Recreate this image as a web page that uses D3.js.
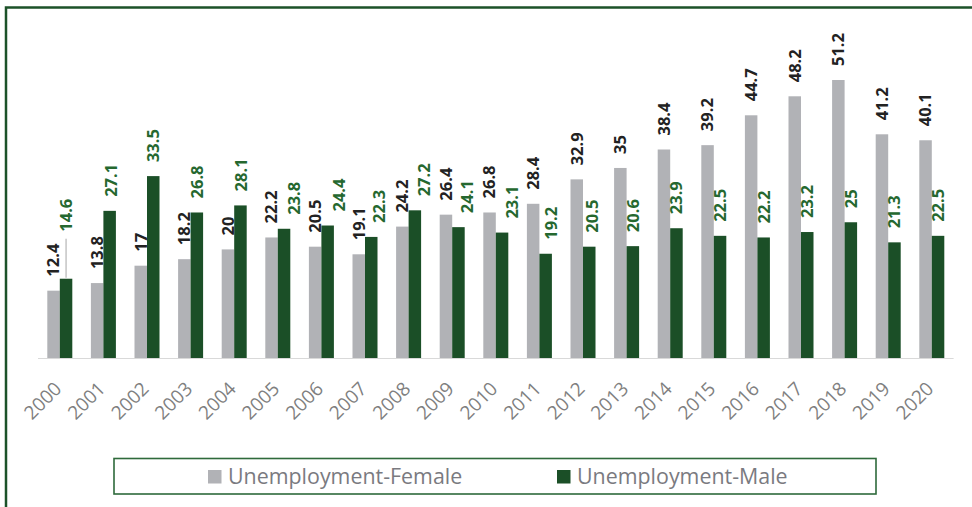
<!DOCTYPE html>
<html>
<head>
<meta charset="utf-8">
<script src="https://cdn.jsdelivr.net/npm/d3@7"></script>
<style>
  html, body { margin: 0; padding: 0; background: #fff; }
  svg { display: block; }
</style>
</head>
<body>
<svg id="chart" width="972" height="507"></svg>
<script>
// Unemployment by sex, 2000–2020
const years = ["2000","2001","2002","2003","2004","2005","2006","2007","2008","2009","2010",
               "2011","2012","2013","2014","2015","2016","2017","2018","2019","2020"];
const female = [12.4, 13.8, 17, 18.2, 20, 22.2, 20.5, 19.1, 24.2, 26.4, 26.8,
                28.4, 32.9, 35, 38.4, 39.2, 44.7, 48.2, 51.2, 41.2, 40.1];
const male = [14.6, 27.1, 33.5, 26.8, 28.1, 23.8, 24.4, 22.3, 27.2, 24.1, 23.1,
              19.2, 20.5, 20.6, 23.9, 22.5, 22.2, 23.2, 25, 21.3, 22.5];
const seriesNames = ["Unemployment-Female", "Unemployment-Male"];

const W = 972, H = 507;
const C = {
  female: "#b1b2b6",
  male: "#1b4f27",
  femaleLabel: "#222222",
  maleLabel: "#25682f",
  frame: "#1c5229",
  axisText: "#7f7f7f",
  baseline: "#d9d9d9"
};
const FONT = "'Open Sans', 'Noto Sans', sans-serif";

const svg = d3.select("#chart");

// outer frame: only the top and left edges fall inside the canvas
svg.append("path")
  .attr("d", `M6,${H} V7.5 H${W}`)
  .attr("fill", "none")
  .attr("stroke", C.frame)
  .attr("stroke-width", 2.5);

const baseY = 358;
const x0 = d3.scaleBand().domain(years).range([38, 953.6]).paddingInner(0).paddingOuter(0);
const x1 = d3.scaleBand().domain(["f", "m"]).range([0, 25]).padding(0);
const pairOffset = (x0.bandwidth() - 25) / 2;
const y = d3.scaleLinear().domain([0, 51.2]).range([baseY, 80]);

const g = svg.append("g");

// category baseline
g.append("line")
  .attr("x1", 38).attr("x2", 953.6)
  .attr("y1", baseY + 0.5).attr("y2", baseY + 0.5)
  .attr("stroke", C.baseline).attr("stroke-width", 1.2);

const rows = years.map((yr, i) => ({ yr, f: female[i], m: male[i] }));

const grp = g.selectAll("g.year").data(rows).join("g")
  .attr("class", "year")
  .attr("transform", d => `translate(${x0(d.yr) + pairOffset},0)`);

grp.append("rect")
  .attr("x", x1("f")).attr("width", x1.bandwidth())
  .attr("y", d => y(d.f)).attr("height", d => baseY - y(d.f))
  .attr("fill", C.female);

grp.append("rect")
  .attr("x", x1("m")).attr("width", x1.bandwidth())
  .attr("y", d => y(d.m)).attr("height", d => baseY - y(d.m))
  .attr("fill", C.male);

const labelGap = 14;
const LABEL_SIZE = 16.5;
const halfCap = LABEL_SIZE * 0.714 / 2;
// the 2000 male label is lifted clear of its neighbour and tied back with a leader line
const liftedLabel = { yr: "2000", lift: 33 };
// male labels in the middle years sit a little to the right of their bars
const maleLabelNudge = { "2001": 1, "2004": 1, "2005": 10, "2006": 11, "2007": 8, "2008": 9,
                         "2009": 9, "2010": 10, "2011": 5, "2012": 3 };

grp.append("text")
  .attr("transform", d => `translate(${x1("f") + x1.bandwidth() / 2 + halfCap},${y(d.f) - labelGap}) rotate(-90)`)
  .attr("font-family", FONT).attr("font-weight", 700).attr("font-size", LABEL_SIZE)
  .attr("fill", C.femaleLabel)
  .text(d => d.f);

grp.append("text")
  .attr("transform", d => {
    const lift = d.yr === liftedLabel.yr ? liftedLabel.lift : 0;
    const nudge = maleLabelNudge[d.yr] || 0;
    return `translate(${x1("m") + x1.bandwidth() / 2 + halfCap + nudge},${y(d.m) - labelGap - lift}) rotate(-90)`;
  })
  .attr("font-family", FONT).attr("font-weight", 700).attr("font-size", LABEL_SIZE)
  .attr("fill", C.maleLabel)
  .text(d => d.m);

grp.filter(d => d.yr === liftedLabel.yr).append("line")
  .attr("x1", x1("m") + x1.bandwidth() / 2).attr("x2", x1("m") + x1.bandwidth() / 2)
  .attr("y1", d => y(d.m) - labelGap - liftedLabel.lift + 7)
  .attr("y2", d => y(d.m) - 1)
  .attr("stroke", "#a6a6a6").attr("stroke-width", 1);

// rotated year labels
const axis = d3.axisBottom(x0).tickSize(0).tickPadding(0);
const ax = svg.append("g").attr("transform", `translate(0,${baseY})`).call(axis);
ax.select(".domain").remove();
ax.selectAll("text")
  .attr("font-family", FONT).attr("font-size", 19)
  .attr("fill", C.axisText)
  .attr("text-anchor", "end")
  .attr("y", 0)
  .attr("dy", 0)
  .attr("transform", "translate(3,32) rotate(-45)");

// legend
const leg = svg.append("g");
leg.append("rect")
  .attr("x", 114).attr("y", 458.5).attr("width", 762).attr("height", 35.5)
  .attr("fill", "#fff").attr("stroke", "#2e6a3b").attr("stroke-width", 1.6);

const legendItems = [
  { name: seriesNames[0], color: C.female, x: 208 },
  { name: seriesNames[1], color: C.male, x: 557 }
];
const li = leg.selectAll("g.item").data(legendItems).join("g")
  .attr("class", "item")
  .attr("transform", d => `translate(${d.x},470)`);
li.append("rect").attr("width", 13.5).attr("height", 13.5).attr("fill", d => d.color);
li.append("text")
  .attr("x", 20).attr("y", 13.5)
  .attr("font-family", FONT).attr("font-size", 21.4)
  .attr("fill", "#7a7a80")
  .text(d => d.name);
</script>
</body>
</html>
